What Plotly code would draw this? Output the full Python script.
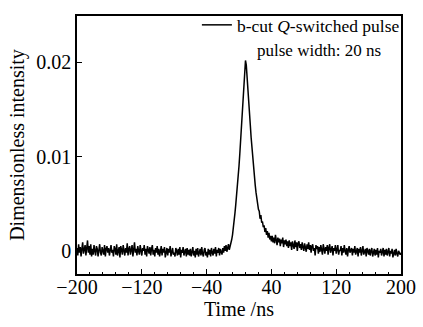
import plotly.graph_objects as go

# Time axis (ns), 1 ns sampling
time_ns = list(range(-200, 201))

# Intensity values, in units of 1e-4
intensity_e4 = [
    # -200 .. -181
    3, -5, 7, -2, 4, -6, 2, 9, -3, 1, 6, -5, 3, 11, -2, 5, -4, 7, -6, 2,
    # -180 .. -161
    -4, 6, 0, -5, 5, 2, -6, 3, 7, -2, -5, 4, 1, -4, 6, -6, 2, 5, -2, 3,
    # -160 .. -141
    -5, 3, 6, -2, 1, -6, 5, 2, -4, 7, -5, 0, 4, -7, 5, 1, -4, 6, 0, -5,
    # -140 .. -121
    3, -2, 8, -5, 2, 5, -4, 1, 6, -6, 3, 9, -2, 2, -5, 5, 0, -4, 6, -2,
    # -120 .. -101
    -5, 3, 0, 6, -4, 2, -6, 5, 0, -3, 4, -5, 2, 6, -4, 1, -6, 3, -2, 5,
    # -100 .. -81
    -4, 2, -6, 0, 5, -5, 2, -2, 4, -7, 0, 3, -5, 2, -2, 5, -6, 1, 3, -4,
    # -80 .. -61
    -2, -6, 3, 0, -5, 2, -4, 4, -7, 1, -2, 4, -5, -1, 2, -6, 3, -4, 1, -5,
    # -60 .. -41
    2, -6, -1, 4, -5, 0, -7, 2, -4, 3, -6, -1, 2, -5, 4, -3, -6, 1, 3, -5,
    # -40 .. -21
    -1, -7, 2, -4, 1, -6, 3, -2, -5, 2, -3, 4, -6, 1, -2, 3, -5, 2, 0, -4,
    # -20 .. -1
    3, -2, 5, 0, 6, -1, 3, 7, 1, 4, 7, 12, 17, 23, 31, 40, 49, 58, 68, 79,
    # 0 .. 19
    90, 103, 117, 132, 148, 165, 181, 194, 202, 197, 186, 173, 159, 146, 133, 120, 108, 97, 87, 78,
    # 20 .. 39
    70, 62, 55, 49, 44, 42, 34, 38, 30, 31, 25, 27, 20, 24, 17, 21, 14, 19, 12, 16,
    # 40 .. 59
    10, 16, 9, 14, 8, 17, 10, 6, 14, 9, 13, 5, 12, 8, 14, 4, 11, 7, 12, 5,
    # 60 .. 79
    10, 3, 11, 5, 9, 1, 10, 7, 2, 11, 4, 9, 0, 8, 10, 3, 7, 1, 9, 4,
    # 80 .. 99
    0, 8, 4, -1, 7, 2, 9, 1, 6, -2, 5, 7, 0, 3, -5, 6, 2, 5, -3, 4,
    # 100 .. 119
    -1, 6, 1, -4, 7, 2, -3, 4, 0, 6, -4, 3, 7, -2, 1, 5, -5, 3, 0, 6,
    # 120 .. 139
    -3, 3, 6, -4, 1, 0, 5, -5, 3, -2, 6, 0, -4, 3, -6, 1, 5, -2, 0, 3,
    # 140 .. 159
    -5, 2, -2, 5, -4, 0, 3, -6, 2, -2, 4, -5, 0, 5, -4, -1, 2, -6, 3, 0,
    # 160 .. 179
    -4, 2, -5, 0, 3, -6, -1, 2, -5, 1, -4, 3, -7, 0, -2, 2, -5, -1, 3, -6,
    # 180 .. 200
    1, -4, 2, -5, -1, 3, -6, 0, -3, 2, -7, -1, 1, -5, 2, -3, -6, 0, -2, -4, -2,
]
intensity = [v * 1e-4 for v in intensity_e4]

x_ticks = [-200, -120, -40, 40, 120, 200]
y_ticks = [0, 0.01, 0.02]
y_tick_labels = ["0", "0.01", "0.02"]

series_name = "b-cut <i>Q</i>-switched pulse"
note_text = "pulse width: 20 ns"

FONT = "Liberation Serif"

fig = go.Figure()
fig.add_trace(go.Scatter(
    x=time_ns, y=intensity, mode="lines", name=series_name,
    line=dict(color="black", width=1.5),
))

fig.update_layout(
    width=423, height=327,
    margin=dict(l=77, r=17, t=7, b=53),
    paper_bgcolor="white", plot_bgcolor="white",
    font=dict(family=FONT, size=20, color="black"),
    showlegend=True,
    legend=dict(
        x=1.012, y=1.035, xanchor="right", yanchor="top",
        bgcolor="rgba(0,0,0,0)", borderwidth=0,
        font=dict(family=FONT, size=17.5, color="black"),
        itemwidth=30, tracegroupgap=0,
    ),
)

fig.update_xaxes(
    range=[-200, 200], tickvals=x_ticks, ticktext=[str(v).replace("-", "\u2212") for v in x_ticks],
    ticks="inside", ticklen=5, tickwidth=1.3, tickcolor="black",
    minor=dict(ticks="inside", ticklen=2.5, dtick=16, tick0=-200, tickcolor="black", tickwidth=1),
    showline=True, linecolor="black", linewidth=1.5, mirror=True,
    showgrid=False, zeroline=False, ticklabelstandoff=-6,
    title=dict(text="Time /ns", font=dict(family=FONT, size=20), standoff=5),
    tickfont=dict(family=FONT, size=20),
)
fig.update_yaxes(
    range=[-0.00246, 0.02492], tickvals=y_ticks, ticktext=y_tick_labels,
    ticks="inside", ticklen=5, tickwidth=1.3, tickcolor="black",
    showline=True, linecolor="black", linewidth=1.5, mirror=True,
    showgrid=False, zeroline=False,
    title=dict(text="Dimensionless intensity", font=dict(family=FONT, size=20), standoff=6),
    tickfont=dict(family=FONT, size=20),
)

fig.add_annotation(
    x=0.945, y=0.865, xref="paper", yref="paper", xanchor="right", yanchor="middle",
    text=note_text, showarrow=False, font=dict(family=FONT, size=17, color="black"),
)

fig.write_html("out.html")
